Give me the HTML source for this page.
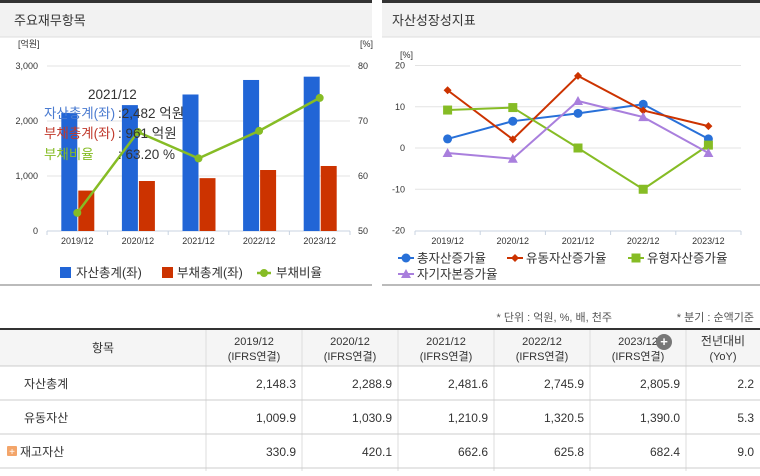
<!DOCTYPE html>
<html><head><meta charset="utf-8"><style>
body{margin:0;width:760px;height:471px;overflow:hidden;background:#fff;font-family:"Liberation Sans","Noto Sans CJK KR",sans-serif;}
svg text{font-family:"Liberation Sans","Noto Sans CJK KR",sans-serif;}
</style></head><body>
<svg width="760" height="471">
<g>
<rect x="0" y="0" width="372" height="3" fill="#333"/>
<rect x="0" y="3" width="372" height="34" fill="#f2f2f2"/>
<line x1="0" y1="37" x2="372" y2="37" stroke="#ddd"/>
<text x="14" y="25" font-size="13" fill="#333">주요재무항목</text>
<line x1="0" y1="285" x2="372" y2="285" stroke="#bbb" stroke-width="2"/>
<g id="left"></g>
</g>
<g>
<rect x="382" y="0" width="378" height="3" fill="#333"/>
<rect x="382" y="3" width="378" height="34" fill="#f2f2f2"/>
<line x1="382" y1="37" x2="760" y2="37" stroke="#ddd"/>
<text x="392" y="25" font-size="13" fill="#333">자산성장성지표</text>
<line x1="382" y1="285" x2="760" y2="285" stroke="#bbb" stroke-width="2"/>
<g id="right"></g>
</g>
<g id="table"></g>
</svg>
<script>
const NS='http://www.w3.org/2000/svg';
function mk(p,t,a,txt){const e=document.createElementNS(NS,t);for(const k in a)e.setAttribute(k,a[k]);if(txt!==undefined)e.textContent=txt;p.appendChild(e);return e;}

const cats=['2019/12','2020/12','2021/12','2022/12','2023/12'];
const totalAssets=[2148,2289,2482,2746,2806];
const totalLiab=[735,909,961,1109,1182];
const debtRatio=[53.3,68.0,63.2,68.2,74.2];
const leftTicks=[0,1000,2000,3000];
const leftTickLabels=['0','1,000','2,000','3,000'];
const rightTicks=[50,60,70,80];

const totalGrowth=[2.2,6.5,8.4,10.6,2.2];
const currentGrowth=[14.0,2.1,17.5,9.1,5.3];
const tangibleGrowth=[9.2,9.8,0.0,-10.0,0.7];
const equityGrowth=[-1.2,-2.6,11.4,7.5,-1.2];
const growthTicks=[-20,-10,0,10,20];

const L=document.getElementById('left');
const yL=v=>231-v/3000*165, yR=v=>231-(v-50)/30*165;
const x0=47,x1=350,bw=(x1-x0)/cats.length;
const xc=i=>x0+bw*(i+0.5);
mk(L,'text',{x:18,y:47,'font-size':9,fill:'#333'},'[억원]');
mk(L,'text',{x:360,y:47,'font-size':9,fill:'#333'},'[%]');
leftTicks.forEach((t,i)=>{
  if(t>0){let g=mk(L,'line',{x1:x0,x2:x1,y1:yL(t),y2:yL(t),stroke:'#e3e3e3'});}
  let e=mk(L,'text',{x:38,y:yL(t)+3,'font-size':9,fill:'#333','text-anchor':'end'},leftTickLabels[i]);
  
});
rightTicks.forEach(t=>{let e=mk(L,'text',{x:358,y:yR(t)+3,'font-size':9,fill:'#333'},String(t));
  });
mk(L,'line',{x1:x0,x2:x1,y1:231,y2:231,stroke:'#c8d3e0'});
cats.forEach((c,i)=>{
  mk(L,'line',{x1:x0+bw*i,x2:x0+bw*i,y1:231,y2:235,stroke:'#c8d3e0'});
  let t=mk(L,'text',{x:xc(i),y:244,'font-size':9,fill:'#333','text-anchor':'middle'},c);
  
  let b=mk(L,'rect',{x:xc(i)-16,y:yL(totalAssets[i]),width:16,height:231-yL(totalAssets[i]),fill:'#2165d6'});
  
  let r=mk(L,'rect',{x:xc(i)+1,y:yL(totalLiab[i]),width:16,height:231-yL(totalLiab[i]),fill:'#cc3300'});
  
});
mk(L,'line',{x1:x1,x2:x1,y1:231,y2:235,stroke:'#c8d3e0'});
let pl=mk(L,'polyline',{points:debtRatio.map((v,i)=>xc(i)+','+yR(v)).join(' '),fill:'none',stroke:'#86bc25','stroke-width':2.5});

debtRatio.forEach((v,i)=>{let c=mk(L,'circle',{cx:xc(i),cy:yR(v),r:4,fill:'#86bc25'});
  });
const tt=mk(L,'g',{});
mk(tt,'text',{x:88,y:99,'font-size':13.5,fill:'#333'},'2021/12');
mk(tt,'text',{x:44,y:118,'font-size':13.5,fill:'#4a7bd0'},'자산총계(좌)');mk(tt,'text',{x:118,y:118,'font-size':13.5,fill:'#333'},':2,482 억원');
mk(tt,'text',{x:44,y:138,'font-size':13.5,fill:'#c0392b'},'부채총계(좌)');mk(tt,'text',{x:118,y:138,'font-size':13.5,fill:'#333'},':  961 억원');
mk(tt,'text',{x:44,y:159,'font-size':13.5,fill:'#86bc25'},'부채비율');mk(tt,'text',{x:118,y:159,'font-size':13.5,fill:'#333'},':  63.20 %');
const lg=mk(L,'g',{});
mk(lg,'rect',{x:60,y:267,width:11,height:11,fill:'#2165d6'});mk(lg,'text',{x:76,y:277,'font-size':12.5,fill:'#333'},'자산총계(좌)');
mk(lg,'rect',{x:162,y:267,width:11,height:11,fill:'#cc3300'});mk(lg,'text',{x:177,y:277,'font-size':12.5,fill:'#333'},'부채총계(좌)');
mk(lg,'line',{x1:257,x2:271,y1:273,y2:273,stroke:'#86bc25','stroke-width':2.5});mk(lg,'circle',{cx:264,cy:273,r:4,fill:'#86bc25'});
mk(lg,'text',{x:276,y:277,'font-size':12.5,fill:'#333'},'부채비율');

const R=document.getElementById('right');
const rx0=415,rx1=741,rbw=(rx1-rx0)/cats.length,rxc=i=>rx0+rbw*(i+0.5);
const yG=v=>148-v/20*82.5;
mk(R,'text',{x:400,y:58,'font-size':9,fill:'#333'},'[%]');
growthTicks.forEach(t=>{
  if(t>-20)mk(R,'line',{x1:rx0,x2:rx1,y1:yG(t),y2:yG(t),stroke:'#e3e3e3'});
  let e=mk(R,'text',{x:405,y:yG(t)+3,'font-size':9,fill:'#333','text-anchor':'end'},String(t));
  
});
mk(R,'line',{x1:rx0,x2:rx1,y1:231,y2:231,stroke:'#c8d3e0'});
cats.forEach((c,i)=>{mk(R,'line',{x1:rx0+rbw*i,x2:rx0+rbw*i,y1:231,y2:235,stroke:'#c8d3e0'});
  let t=mk(R,'text',{x:rxc(i),y:244,'font-size':9,fill:'#333','text-anchor':'middle'},c);
  });
mk(R,'line',{x1:rx1,x2:rx1,y1:231,y2:235,stroke:'#c8d3e0'});
function marker(p,type,x,y,col){
  if(type==='circle')return mk(p,'circle',{cx:x,cy:y,r:4.5,fill:col});
  if(type==='diamond')return mk(p,'path',{d:`M${x} ${y-4}L${x+4} ${y}L${x} ${y+4}L${x-4} ${y}Z`,fill:col});
  if(type==='square')return mk(p,'rect',{x:x-4.5,y:y-4.5,width:9,height:9,fill:col});
  return mk(p,'path',{d:`M${x} ${y-5}L${x+5} ${y+4}L${x-5} ${y+4}Z`,fill:col});
}
const series=[['total-asset-growth',totalGrowth,'#2870d8','circle'],['current-asset-growth',currentGrowth,'#cc3300','diamond'],['tangible-asset-growth',tangibleGrowth,'#86bc25','square'],['equity-growth',equityGrowth,'#a97fdd','triangle']];
series.forEach(([n,d,col,m])=>{
  let l=mk(R,'polyline',{points:d.map((v,i)=>rxc(i)+','+yG(v)).join(' '),fill:'none',stroke:col,'stroke-width':2});
  
  d.forEach((v,i)=>{let k=marker(R,m,rxc(i),yG(v),col);
    });
});
const rl=mk(R,'g',{});
const legItems=[['총자산증가율',406,258],['유동자산증가율',515,258],['유형자산증가율',636,258],['자기자본증가율',406,274]];
legItems.forEach(([t,x,y],i)=>{mk(rl,'line',{x1:x-8,x2:x+8,y1:y,y2:y,stroke:series[i][2],'stroke-width':2});
  marker(rl,series[i][3],x,y,series[i][2]);mk(rl,'text',{x:x+11,y:y+4.5,'font-size':12.5,fill:'#333'},t);});

const T=document.getElementById('table');
const colB=[0,206,302,398,494,590,686,760];
const hdr=['2019/12','2020/12','2021/12','2022/12','2023/12'];
const rows=[['자산총계',['2,148.3','2,288.9','2,481.6','2,745.9','2,805.9','2.2']],['유동자산',['1,009.9','1,030.9','1,210.9','1,320.5','1,390.0','5.3']],['재고자산',['330.9','420.1','662.6','625.8','682.4','9.0']]];
mk(T,'text',{x:612,y:321,'font-size':11,fill:'#555','text-anchor':'end'},'* 단위 : 억원, %, 배, 천주');
mk(T,'text',{x:754,y:321,'font-size':11,fill:'#555','text-anchor':'end'},'* 분기 : 순액기준');
mk(T,'rect',{x:0,y:330,width:760,height:36,fill:'#f5f5f5'});
mk(T,'line',{x1:0,x2:760,y1:329,y2:329,stroke:'#333','stroke-width':2});
mk(T,'text',{x:103,y:352,'font-size':12,fill:'#333','text-anchor':'middle'},'항목');
hdr.forEach((h,i)=>{const cx=(colB[i+1]+colB[i+2])/2;
  mk(T,'text',{x:cx,y:345,'font-size':11,fill:'#333','text-anchor':'middle'},h);
  mk(T,'text',{x:cx,y:360,'font-size':11,fill:'#333','text-anchor':'middle'},'(IFRS연결)');});
mk(T,'circle',{cx:664,cy:342,r:8,fill:'#777'});mk(T,'text',{x:664,y:346,'font-size':13,fill:'#fff','text-anchor':'middle','font-weight':'bold'},'+');
mk(T,'text',{x:723,y:345,'font-size':12,fill:'#333','text-anchor':'middle'},'전년대비');
mk(T,'text',{x:723,y:360,'font-size':11,fill:'#333','text-anchor':'middle'},'(YoY)');
for(let i=1;i<colB.length-1;i++)mk(T,'line',{x1:colB[i],x2:colB[i],y1:330,y2:471,stroke:'#ddd'});
rows.forEach(([name,vals],r)=>{const y0=366+r*34;
  mk(T,'line',{x1:0,x2:760,y1:y0,y2:y0,stroke:'#ccc'});
  const row=mk(T,'g',{});
  if(r===2){mk(row,'rect',{x:7,y:y0+12,width:10,height:10,fill:'#f3a56a',rx:1});mk(row,'text',{x:12,y:y0+21,'font-size':10,fill:'#fff','text-anchor':'middle'},'+');}
  mk(row,'text',{x:r===2?20:24,y:y0+22,'font-size':12,fill:'#333'},name);
  vals.forEach((v,j)=>mk(row,'text',{x:colB[j+2]-6,y:y0+22,'font-size':12,fill:'#333','text-anchor':'end'},v));
});
mk(T,'line',{x1:0,x2:760,y1:468,y2:468,stroke:'#ccc'});
</script>
</body></html>
